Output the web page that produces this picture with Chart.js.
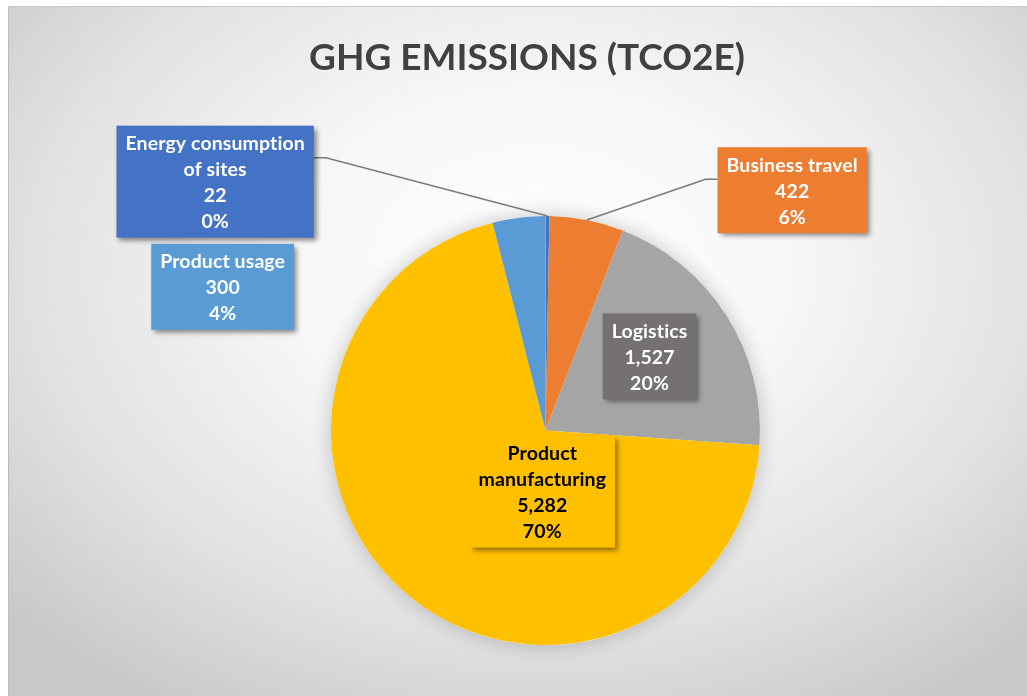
<!DOCTYPE html>
<html>
<head>
<meta charset="utf-8">
<script src="https://cdn.jsdelivr.net/npm/chart.js@4.4.1/dist/chart.umd.min.js"></script>
<style>
    html, body { margin: 0; padding: 0; background: #ffffff; }
    #wrap {
        position: absolute;
        left: 8px; top: 6px;
        width: 1019px; height: 690px;
        background: radial-gradient(ellipse 70% 75% at 52% 38%, #ffffff 0%, #f7f7f7 35%, #e2e2e2 70%, #c8c8c8 100%);
        border-left: 1px solid #bdbdbd;
        border-top: 1px solid #c8c8c8;
        box-sizing: border-box;
    }
    canvas { display: block; }
</style>
</head>
<body>
<div id="wrap"><canvas id="ghgChart"></canvas></div>
<script>
const categories = ['Energy consumption of sites', 'Business travel', 'Logistics', 'Product manufacturing', 'Product usage'];
const emissions = [22, 422, 1527, 5282, 300];
const percentLabels = ['0%', '6%', '20%', '70%', '4%'];
// wrapped label text as shown in the boxes
const labelLines = [
    ['Energy consumption', 'of sites'],
    ['Business travel'],
    ['Logistics'],
    ['Product', 'manufacturing'],
    ['Product usage'],
];
const sliceColors = ['#4472C4', '#ED7D31', '#A5A5A5', '#FFC000', '#5B9BD5'];
const boxColors = ['#4472C4', '#ED7D31', '#767171', '#FFC000', '#5B9BD5'];
const textColors = ['#ffffff', '#ffffff', '#ffffff', '#000000', '#ffffff'];

// box centre offsets in units of the pie radius
const boxOffsets = [[-1.54, -1.16], [1.15, -1.12], [0.485, -0.345], [-0.015, 0.285], [-1.505, -0.67]];
const leaders = [true, true, false, false, false];

const FONT = 'bold 19.5px Lato, "Open Sans", sans-serif';
const LINE_H = 26;

function fmt(v) {
    return v.toLocaleString('en-US');
}

const pieShadow = {
    id: 'pieShadow',
    beforeDatasetsDraw(chart) {
        const arc = chart.getDatasetMeta(0).data[0];
        const ctx = chart.ctx;
        ctx.save();
        ctx.shadowColor = 'rgba(0,0,0,0.22)';
        ctx.shadowBlur = 20;
        ctx.fillStyle = '#ffffff';
        ctx.beginPath();
        ctx.arc(arc.x, arc.y, arc.outerRadius, 0, Math.PI * 2);
        ctx.fill();
        ctx.restore();
    },
};

const titlePlugin = {
    id: 'titleText',
    afterDraw(chart) {
        const ctx = chart.ctx;
        ctx.save();
        ctx.font = 'bold 37px Lato, "Open Sans", sans-serif';
        ctx.fillStyle = '#404040';
        ctx.textAlign = 'center';
        ctx.textBaseline = 'middle';
        ctx.fillText('GHG EMISSIONS (TCO2E)', 518, 51);
        ctx.restore();
    },
};

const boxLabels = {
    id: 'boxLabels',
    afterDatasetsDraw(chart) {
        const ctx = chart.ctx;
        const meta = chart.getDatasetMeta(0);
        ctx.save();
        ctx.font = FONT;
        ctx.letterSpacing = '0.1px'; // avoids the "ti" ligature
        meta.data.forEach((arc, i) => {
            const r = arc.outerRadius;
            const lines = labelLines[i].concat([fmt(emissions[i]), percentLabels[i]]);
            let w = 0;
            lines.forEach(t => { w = Math.max(w, ctx.measureText(t).width); });
            const bw = w + 18;
            const bh = lines.length * LINE_H + 8;
            const cx = arc.x + boxOffsets[i][0] * r;
            const cy = arc.y + boxOffsets[i][1] * r;
            const bx = cx - bw / 2;
            const by = cy - bh / 2;

            if (leaders[i]) {
                const mid = (arc.startAngle + arc.endAngle) / 2;
                const ax = arc.x + Math.cos(mid) * r;
                const ay = arc.y + Math.sin(mid) * r;
                const side = cx < arc.x ? 1 : -1;
                const ex = cx < arc.x ? bx + bw : bx;
                const ey = by + LINE_H + 6;
                ctx.strokeStyle = '#7a7a7a';
                ctx.lineWidth = 1.5;
                ctx.beginPath();
                ctx.moveTo(ax, ay);
                ctx.lineTo(ex + side * 12, ey);
                ctx.lineTo(ex, ey);
                ctx.stroke();
            }

            ctx.save();
            ctx.shadowColor = 'rgba(0,0,0,0.45)';
            ctx.shadowBlur = 5;
            ctx.shadowOffsetX = 3;
            ctx.shadowOffsetY = 3;
            ctx.fillStyle = boxColors[i];
            ctx.fillRect(bx, by, bw, bh);
            ctx.restore();

            ctx.fillStyle = textColors[i];
            ctx.textAlign = 'center';
            ctx.textBaseline = 'middle';
            lines.forEach((t, k) => {
                ctx.fillText(t, cx, by + 4 + LINE_H * k + LINE_H / 2 + 1);
            });
        });
        ctx.restore();
    },
};

const ctx = document.getElementById('ghgChart').getContext('2d');
const ghgChart = new Chart(ctx, {
    type: 'pie',
    data: {
        labels: categories,
        datasets: [
            {
                data: emissions,
                backgroundColor: sliceColors,
                borderWidth: 0,
            },
        ],
    },
    options: {
        responsive: true,
        maintainAspectRatio: false,
        animation: false,
        layout: {
            padding: { left: 322, right: 267, top: 209, bottom: 51 },
        },
        plugins: {
            legend: { display: false },
            tooltip: { enabled: false },
        },
    },
    plugins: [pieShadow, boxLabels, titlePlugin],
});
</script>
</body>
</html>
